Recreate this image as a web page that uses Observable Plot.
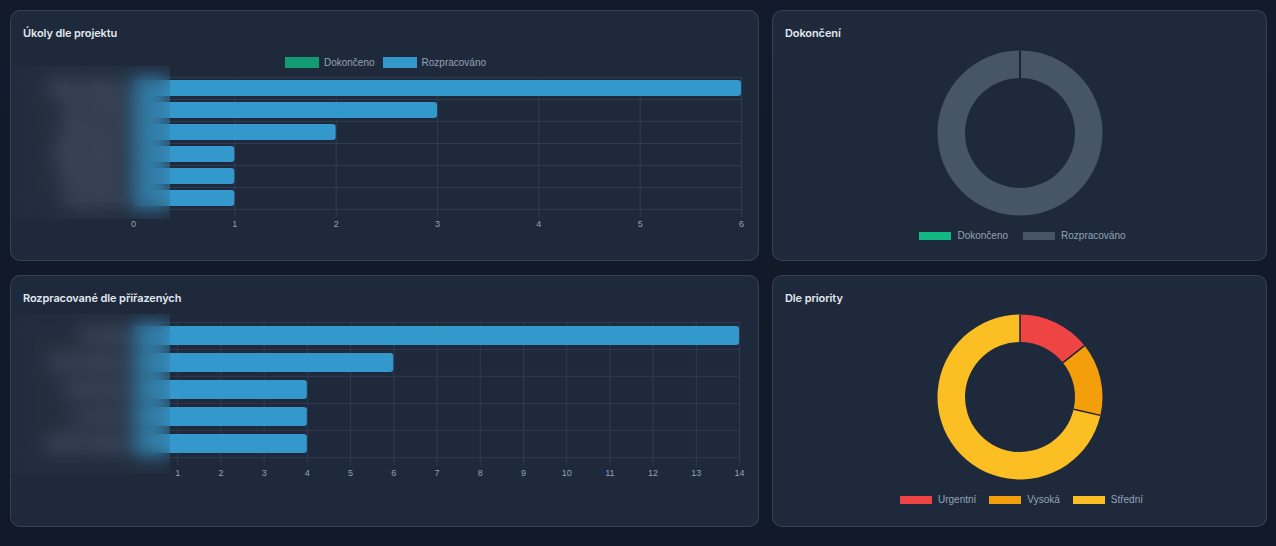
<!DOCTYPE html>
<html><head><meta charset="utf-8">
<script src="https://cdn.jsdelivr.net/npm/d3@7"></script>
<script src="https://cdn.jsdelivr.net/npm/@observablehq/plot@0.6"></script>
<style>
html,body{margin:0;padding:0;}
body{width:1276px;height:546px;background:linear-gradient(180deg,#121a2b 0%,#111827 100%);position:relative;overflow:hidden;font-family:"Liberation Sans",Arial,sans-serif;}
.panel{position:absolute;background:#1e293b;border:1px solid rgba(148,163,184,0.2);border-radius:10px;box-sizing:border-box;}
.title{position:absolute;left:12px;top:15px;font-family:Inter,"Open Sans",sans-serif;font-weight:600;font-size:11px;color:#e2e8f0;line-height:14px;letter-spacing:-0.1px;}
.chart{position:absolute;}
.chart svg{display:block;}
.legend{position:absolute;display:flex;justify-content:center;align-items:center;height:13px;}
.legend > div{display:flex !important;align-items:center !important;justify-content:center !important;min-height:0 !important;margin:0 !important;font-family:"Liberation Sans",Arial,sans-serif !important;font-size:10px !important;color:#94a3b8 !important;}
.legend span{display:inline-flex !important;align-items:center !important;font-size:10px !important;color:#94a3b8 !important;font-family:"Liberation Sans",Arial,sans-serif !important;}
.legend span:last-child{margin-right:0 !important;}
.l1 span{margin-right:8px !important;}
.l1 span svg{margin-right:5px !important;}
.l2 span{margin-right:15px !important;}
.l2 span svg{margin-right:6px !important;}
.l4 span{margin-right:13px !important;}
.l4 span svg{margin-right:6px !important;}
.blur{position:absolute;backdrop-filter:blur(10px);-webkit-backdrop-filter:blur(10px);background:rgba(255,255,255,0.02);}
</style>
</head>
<body>
<div class="panel" style="left:10px;top:10px;width:749px;height:251px;"><div class="title">Úkoly dle projektu</div></div>
<div class="panel" style="left:772px;top:10px;width:495px;height:251px;"><div class="title">Dokončení</div></div>
<div class="panel" style="left:10px;top:275px;width:749px;height:252px;"><div class="title">Rozpracované dle přiřazených</div></div>
<div class="panel" style="left:772px;top:275px;width:495px;height:252px;"><div class="title">Dle priority</div></div>

<div id="c1" class="chart" style="left:23px;top:72px;"></div>
<div id="c2" class="chart" style="left:773px;top:45px;"></div>
<div id="c3" class="chart" style="left:23px;top:316px;"></div>
<div id="c4" class="chart" style="left:773px;top:309px;"></div>

<div id="l1" class="legend l1" style="left:11px;width:749px;top:56px;"></div>
<div id="l2" class="legend l2" style="left:775px;width:495px;top:229px;"></div>
<div id="l4" class="legend l4" style="left:774px;width:495px;top:493px;"></div>

<div class="blur" style="left:13px;top:66px;width:157px;height:153px;"></div>
<div class="blur" style="left:13px;top:314px;width:157px;height:160px;"></div>

<script>
// ---- data ----
const statusLabels = ["Dokončeno", "Rozpracováno"];
const projects = ["Webová aplikace", "Interní systém", "Marketing web", "Mobilní aplikace", "CRM integrace", "Dokumentace"];
const doneByProject = [0, 0, 0, 0, 0, 0];
const openByProject = [6, 3, 2, 1, 1, 1];
const projectTicks = [0, 1, 2, 3, 4, 5, 6];

const assignees = ["Jan Novák", "Petra Svobodová", "Tomáš Dvořák", "Lucie Černá", "Martin Procházka"];
const openByAssignee = [14, 6, 4, 4, 4];
const assigneeTicks = [1, 2, 3, 4, 5, 6, 7, 8, 9, 10, 11, 12, 13, 14];

const completionLabels = ["Dokončeno", "Rozpracováno"];
const completionValues = [0, 14];

const priorityLabels = ["Urgentní", "Vysoká", "Střední"];
const priorityValues = [2, 2, 10];

// ---- styles ----
const gridColor = "#303c51";
const tickColor = "#94a3b8";
const barBlue = "#3398cc";
const panelBg = "#1e293b";
const baseStyle = {background: "transparent", color: tickColor, fontFamily: "'Liberation Sans', Arial, sans-serif", fontSize: "9px", overflow: "visible"};

// ---- chart 1: tasks by project ----
const rows1 = projects.flatMap((p, i) => [
  {project: p, status: statusLabels[0], value: doneByProject[i]},
  {project: p, status: statusLabels[1], value: openByProject[i]}
]);
const chart1 = Plot.plot({
  width: 723, height: 161,
  marginLeft: 110, marginRight: 5, marginTop: 5, marginBottom: 24,
  x: {domain: [0, d3.max(projectTicks)]},
  y: {domain: projects, paddingInner: 0.27, paddingOuter: 0.135},
  color: {domain: statusLabels, range: ["#139c73", barBlue]},
  style: baseStyle,
  marks: [
    Plot.gridX(projectTicks, {stroke: gridColor, strokeOpacity: 1}),
    Plot.ruleY(projects, {y: d => d, dy: -11, stroke: gridColor}),
    Plot.ruleY(projects.slice(-1), {y: d => d, dy: 11, stroke: gridColor}),
    Plot.barX(rows1, Plot.stackX({x: "value", y: "project", fill: "status", rx: 3})),
    Plot.axisX(projectTicks, {tickSize: 8, tickPadding: 3, stroke: gridColor, fill: tickColor, fontSize: 9, tickFormat: d => d, label: null}),
    Plot.axisY({tickSize: 0, tickPadding: 8, fill: "#cbd5e1", fontSize: 10, label: null})
  ]
});
document.getElementById("c1").appendChild(chart1);
document.getElementById("l1").appendChild(Plot.legend({
  color: {domain: statusLabels, range: ["#139c73", barBlue]},
  swatchWidth: 34, swatchHeight: 11, className: "lgA"
}));

// ---- chart 3: open by assignee ----
const rows3 = assignees.map((a, i) => ({assignee: a, value: openByAssignee[i]}));
const chart3 = Plot.plot({
  width: 723, height: 165,
  marginLeft: 111, marginRight: 7, marginTop: 5, marginBottom: 23.5,
  x: {domain: [0, d3.max(assigneeTicks)]},
  y: {domain: assignees, paddingInner: 0.285, paddingOuter: 0.1425},
  style: baseStyle,
  marks: [
    Plot.gridX([0, ...assigneeTicks], {stroke: gridColor, strokeOpacity: 1}),
    Plot.ruleY(assignees, {y: d => d, dy: -13.65, stroke: gridColor}),
    Plot.ruleY(assignees.slice(-1), {y: d => d, dy: 13.65, stroke: gridColor}),
    Plot.barX(rows3, {x: "value", y: "assignee", fill: barBlue, rx: 3}),
    Plot.axisX(assigneeTicks, {tickSize: 8, tickPadding: 3.5, stroke: gridColor, fill: tickColor, fontSize: 9, tickFormat: d => d, label: null}),
    Plot.axisY({tickSize: 0, tickPadding: 8, fill: "#cbd5e1", fontSize: 10, label: null})
  ]
});
document.getElementById("c3").appendChild(chart3);

// ---- donuts ----
function donut(labels, values, colors, el, legendEl, cls) {
  const rows = labels.map((l, i) => ({label: l, value: values[i]}));
  const ring = (index, scales, channels, dims) => {
    const cx = scales.x(0), cy = scales.y(0);
    const arcs = d3.pie().sort(null).value(d => d.value)(rows);
    const arc = d3.arc().innerRadius(55).outerRadius(82.5);
    const g = d3.create("svg:g").attr("transform", `translate(${cx},${cy})`);
    g.selectAll("path").data(arcs).join("path")
      .attr("d", arc)
      .attr("fill", d => scales.color(d.data.label))
      .attr("stroke", "none");
    // slice separators (Chart.js style borders)
    g.selectAll("line").data(arcs).join("line")
      .attr("x1", d => d3.pointRadial(d.startAngle, 55)[0])
      .attr("y1", d => d3.pointRadial(d.startAngle, 55)[1])
      .attr("x2", d => d3.pointRadial(d.startAngle, 82.5)[0])
      .attr("y2", d => d3.pointRadial(d.startAngle, 82.5)[1])
      .attr("stroke", "#1a2233")
      .attr("stroke-width", 1.5);
    return g.node();
  };
  const chart = Plot.plot({
    width: 494, height: 176, margin: 0,
    x: {domain: [-1, 1], axis: null},
    y: {domain: [-1, 1], axis: null},
    color: {domain: labels, range: colors},
    style: baseStyle,
    marks: [
      Plot.dot(rows, {x: () => 0, y: () => 0, fill: "label", fillOpacity: 0, r: 1}),
      ring
    ]
  });
  document.getElementById(el).appendChild(chart);
  document.getElementById(legendEl).appendChild(Plot.legend({
    color: {domain: labels, range: colors},
    swatchWidth: 32, swatchHeight: 8, className: cls
  }));
}
donut(completionLabels, completionValues, ["#10b981", "#475569"], "c2", "l2", "lgB");
donut(priorityLabels, priorityValues, ["#ef4444", "#f59e0b", "#fbbf24"], "c4", "l4", "lgC");
</script>
</body></html>
